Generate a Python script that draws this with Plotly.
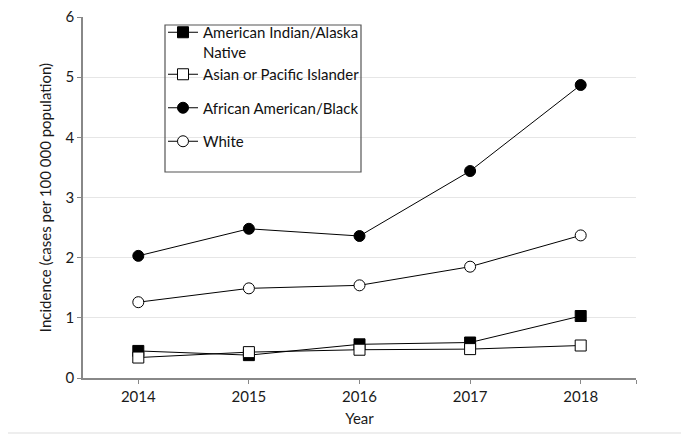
import plotly.graph_objects as go

years = [2014, 2015, 2016, 2017, 2018]
aian = [0.45, 0.38, 0.56, 0.59, 1.03]
api = [0.34, 0.43, 0.47, 0.48, 0.54]
black = [2.03, 2.48, 2.36, 3.44, 4.87]
white = [1.26, 1.49, 1.54, 1.85, 2.37]
tick_vals = [2014, 2015, 2016, 2017, 2018, 2018.5]
tick_text = ["2014", "2015", "2016", "2017", "2018", ""]

FONT = "Lato"
OFF = 8  # browser body margin
W, H = 689 - OFF, 435 - OFF
# plot area in screenshot pixels: x 83..636, y 17..378
L, T = 83 - OFF, 17 - OFF
R, B = W - (636 - OFF), H - (378 - OFF)
PW, PH = W - L - R, H - T - B


def px_x(p):
    return (p - OFF - L) / PW


def px_y(p):
    return (H - B - (p - OFF)) / PH


series = [
    ("American Indian/Alaska<br>Native", aian, "square", "black", "g1"),
    ("Asian or Pacific Islander", api, "square", "white", "g1"),
    ("African American/Black", black, "circle", "black", "g2"),
    ("White", white, "circle", "white", "g3"),
]

fig = go.Figure()
for name, vals, sym, fill, grp in series:
    fig.add_trace(go.Scatter(
        x=years, y=vals, name=name, mode="lines+markers",
        legendgroup=grp,
        line=dict(color="black", width=1),
        marker=dict(symbol=sym, size=11, color=fill,
                    line=dict(color="black", width=1)),
    ))

fig.update_layout(
    width=W, height=H,
    margin=dict(l=L, r=R, t=T, b=B, autoexpand=False),
    paper_bgcolor="white", plot_bgcolor="white",
    font=dict(family=FONT, size=15, color="#1a1a1a"),
    showlegend=True,
    legend=dict(
        x=px_x(163), y=px_y(16), xanchor="left", yanchor="top",
        bgcolor="rgba(0,0,0,0)", borderwidth=0,
        tracegroupgap=11, valign="top",
        font=dict(family=FONT, size=15, color="#111111"),
        itemwidth=30,
    ),
    xaxis=dict(
        range=[2013.5, 2018.5], tickvals=tick_vals, ticktext=tick_text,
        showgrid=False, zeroline=False, automargin=False,
        showline=True, linecolor="#888888", linewidth=2,
        ticks="outside", ticklen=4, tickcolor="#888888", tickwidth=1,
        ticklabeloverflow="allow",
        title=dict(text="Year", standoff=9, font=dict(size=15)),
    ),
    yaxis=dict(
        range=[0, 6], dtick=1, automargin=False,
        showgrid=True, gridcolor="#e6e6e6", gridwidth=1,
        zeroline=False,
        showline=True, linecolor="#888888", linewidth=1.5,
        ticks="outside", ticklen=4, tickcolor="#888888", tickwidth=1,
        ticklabelstandoff=0, ticklabeloverflow="allow",
        title=dict(text="Incidence (cases per 100 000 population)",
                   standoff=10, font=dict(size=15)),
    ),
    shapes=[
        dict(type="rect", xref="paper", yref="paper",
             x0=px_x(165), x1=px_x(361), y0=px_y(172), y1=px_y(25),
             line=dict(color="#555555", width=1.2), fillcolor="rgba(0,0,0,0)",
             layer="above"),
        dict(type="line", xref="paper", yref="paper",
             x0=px_x(683), x1=px_x(683), y0=px_y(434), y1=px_y(8),
             line=dict(color="#e8e8e8", width=1.5)),
        dict(type="line", xref="paper", yref="paper",
             x0=px_x(8), x1=px_x(683), y0=px_y(433), y1=px_y(433),
             line=dict(color="#e8e8e8", width=1.5)),
    ],
)

fig.write_html("out.html")
